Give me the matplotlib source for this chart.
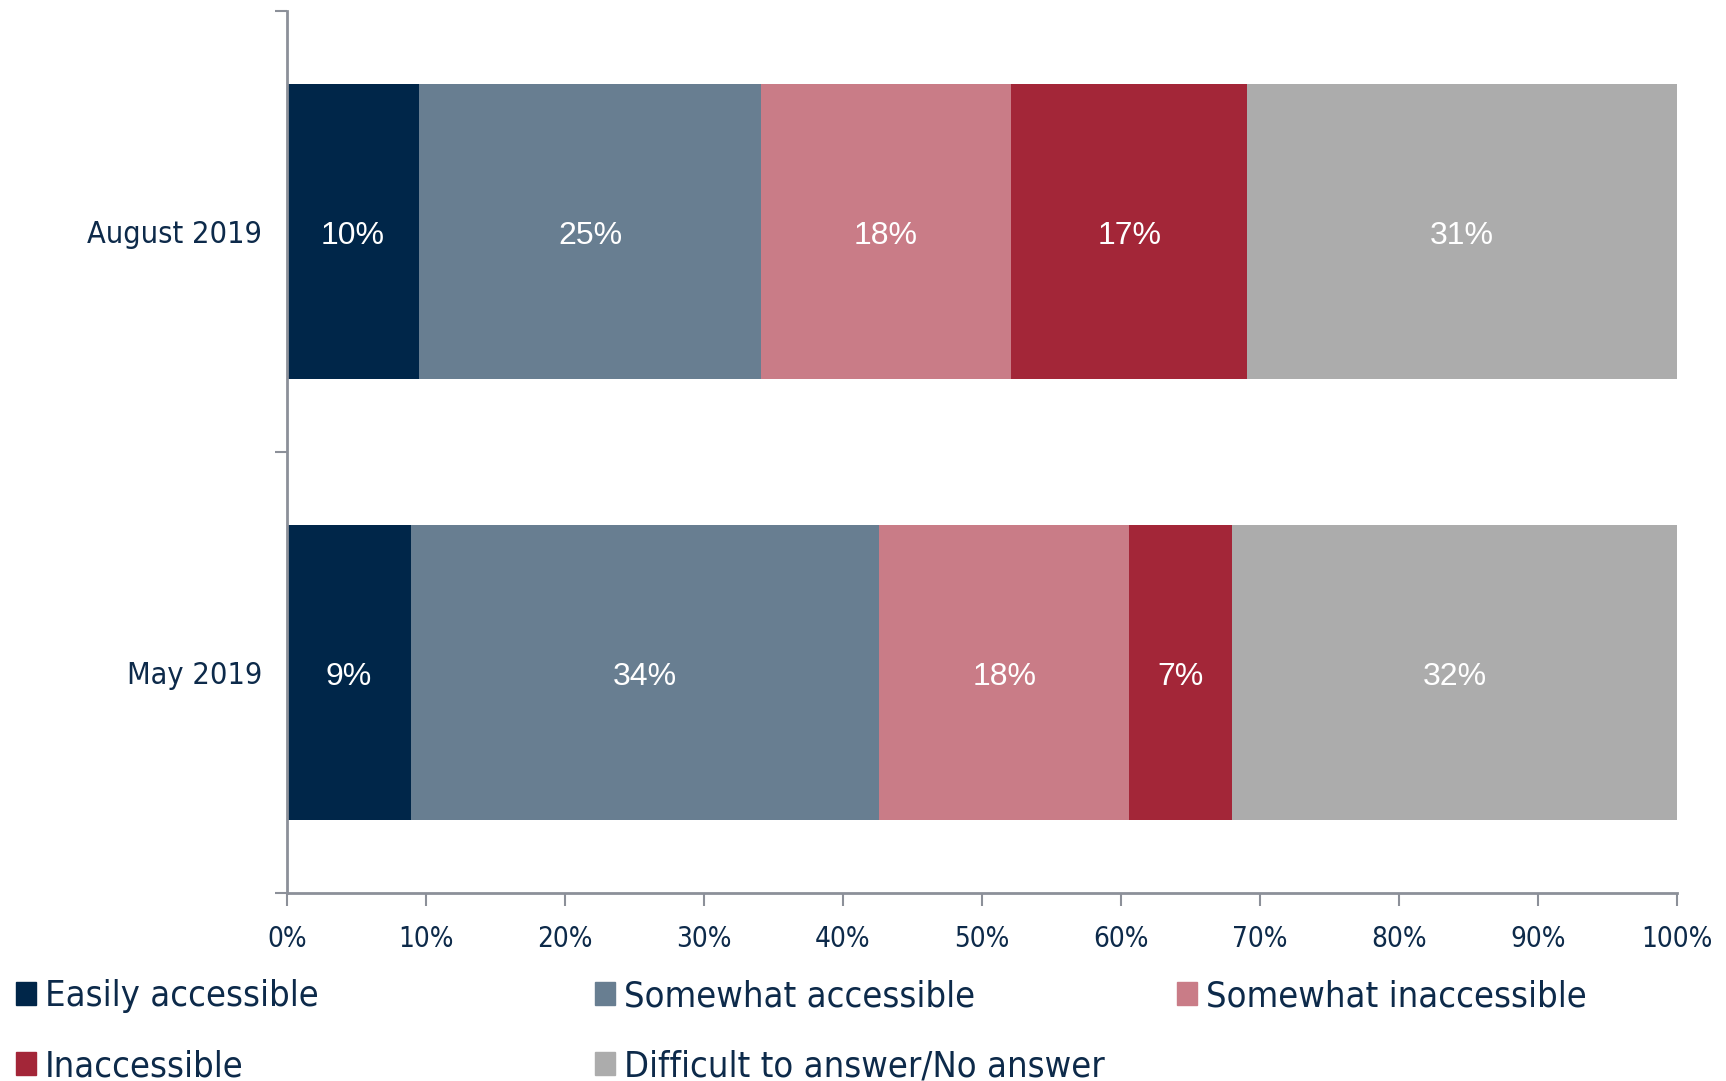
import matplotlib.pyplot as plt
import numpy as np
from matplotlib.patches import Rectangle

# survey waves (bottom to top)
periods = ["May 2019", "August 2019"]

categories = ["Easily accessible", "Somewhat accessible", "Somewhat inaccessible",
              "Inaccessible", "Difficult to answer/No answer"]
colors = ["#002649", "#687e91", "#c97c87", "#a32638", "#acacac"]

# shares in %, one list per category, [May, August]
easily = [8.9, 9.5]
somewhat_acc = [33.7, 24.6]
somewhat_inacc = [18.0, 18.0]
inaccessible = [7.4, 17.0]
no_answer = [32.0, 30.9]

series = [easily, somewhat_acc, somewhat_inacc, inaccessible, no_answer]

navy = "#0d2a4a"
spine_col = "#8c9099"

fig = plt.figure(figsize=(17.26, 10.81), dpi=100)
ax = fig.add_axes([0.1663, 0.1739, 0.8053, 0.8159])

y = np.arange(len(periods))
left = np.zeros(len(periods))
for vals, col in zip(series, colors):
    vals = np.array(vals)
    ax.barh(y, vals, left=left, height=0.667, color=col, edgecolor="none")
    for yi, (l, v) in enumerate(zip(left, vals)):
        ax.text(l + v / 2, yi - 0.01, "{:.0f}%".format(v), ha="center", va="center",
                color="white", fontsize=23, family="Liberation Sans")
    left = left + vals

ax.set_xlim(0, 100)
ax.set_ylim(-0.5, 1.5)

ax.set_xticks(np.arange(0, 101, 10))
ax.set_xticklabels(["{}%".format(v) for v in range(0, 101, 10)])
ax.set_yticks([-0.5, 0.5, 1.5])
ax.set_yticklabels([])
ax.set_yticks(y, minor=True)
ax.set_yticklabels(periods, minor=True)

for s in ["top", "right"]:
    ax.spines[s].set_visible(False)
for s in ["left", "bottom"]:
    ax.spines[s].set_color(spine_col)
    ax.spines[s].set_linewidth(2)

ax.tick_params(axis="both", which="major", direction="out", length=9, width=1.5,
               color=spine_col, labelsize=20, labelcolor=navy)
ax.tick_params(axis="y", which="minor", length=0, pad=18, labelsize=22, labelcolor=navy)
ax.tick_params(axis="x", pad=14)
for lab in ax.get_xticklabels() + ax.get_yticklabels(minor=True):
    lab.set_fontstretch("condensed")

# legend laid out as a grid: three columns, row-major
columns = [[0, 3], [1, 4], [2]]
col_x = [0.0093, 0.345, 0.682]
for idx, x0 in zip(columns, col_x):
    handles = [Rectangle((0, 0), 1, 1, color=colors[i]) for i in idx]
    labels = [categories[i] for i in idx]
    leg = fig.legend(handles, labels, loc="upper left", bbox_to_anchor=(x0, 0.094),
                     frameon=False, fontsize=26, handlelength=0.55, handleheight=0.6,
                     handletextpad=0.25, labelspacing=1.0, borderpad=0,
                     borderaxespad=0)
    for t in leg.get_texts():
        t.set_color(navy)
        t.set_fontstretch("condensed")

fig.savefig("out.png", dpi=100)
